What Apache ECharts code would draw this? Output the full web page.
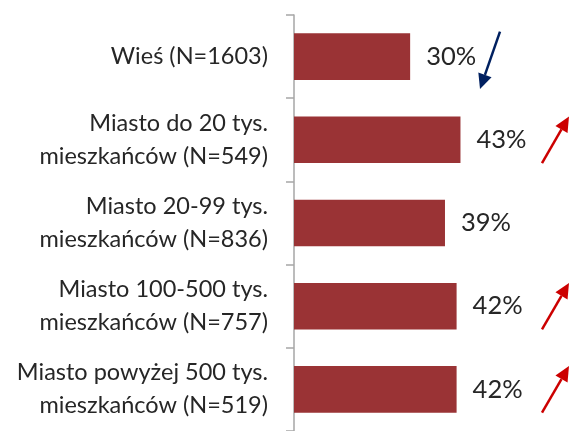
<!DOCTYPE html>
<html>
<head>
<meta charset="utf-8">
<script src="https://cdn.jsdelivr.net/npm/echarts@6/dist/echarts.min.js"></script>
<style>
  html, body { margin: 0; padding: 0; background: #fff; }
  #chart { width: 575px; height: 431px; }
</style>
</head>
<body>
<div id="chart"></div>
<script>
// dane
const categories = [
  "Wieś (N=1603)",
  "Miasto do 20 tys.\nmieszkańców (N=549)",
  "Miasto 20-99 tys.\nmieszkańców (N=836)",
  "Miasto 100-500 tys.\nmieszkańców (N=757)",
  "Miasto powyżej 500 tys.\nmieszkańców (N=519)"
];
const values = [30, 43, 39, 42, 42];
// kierunek zmiany (strzałki)
const trends = ["down", "up", null, "up", "up"];

let myChart = echarts.init(document.getElementById("chart"));

const font = "Lato, 'Open Sans', sans-serif";

// strzałka rysowana względem środka kategorii
function renderArrow(params, api) {
  const idx = api.value(0);
  const trend = trends[idx];
  if (!trend) return;
  const center = api.coord([0, idx]);
  const cy = center[1];
  const band = api.size([0, 1])[1];
  let x1, y1, x2, y2, color;
  if (trend === "down") {
    x1 = 500; y1 = cy - band * 0.3;
    x2 = 480; y2 = cy + band * 0.39;
    color = "#002060";
  } else {
    x1 = 542; y1 = cy + band * 0.28;
    x2 = 569; y2 = cy - band * 0.28;
    color = "#cc0000";
  }
  const ang = Math.atan2(y2 - y1, x2 - x1);
  const headLen = 15, headW = 7;
  const bx = x2 - headLen * Math.cos(ang), by = y2 - headLen * Math.sin(ang);
  const px = -Math.sin(ang) * headW, py = Math.cos(ang) * headW;
  return {
    type: "group",
    children: [
      {
        type: "line",
        shape: { x1: x1, y1: y1, x2: bx, y2: by },
        style: { stroke: color, lineWidth: 2.5 }
      },
      {
        type: "polygon",
        shape: { points: [[x2, y2], [bx + px, by + py], [bx - px, by - py]] },
        style: { fill: color }
      }
    ]
  };
}

let option = {
  animation: false,
  grid: { left: 294, right: 10, top: 15, bottom: -4 },
  xAxis: {
    type: "value",
    min: 0,
    max: 70,
    show: false
  },
  yAxis: {
    type: "category",
    inverse: true,
    data: categories,
    axisLine: { show: true, lineStyle: { color: "#a6a6a6", width: 1.5 } },
    axisTick: { show: true, length: 8, lineStyle: { color: "#a6a6a6", width: 1.5 } },
    axisLabel: {
      color: "#262626",
      fontFamily: font,
      fontSize: 23.5,
      lineHeight: 33,
      margin: 26,
      align: "right"
    }
  },
  series: [
    {
      type: "bar",
      data: values,
      barWidth: "56%",
      itemStyle: { color: "#9a3335" },
      label: {
        show: true,
        position: "right",
        distance: 16,
        formatter: "{c}%",
        color: "#262626",
        fontFamily: font,
        fontSize: 25.5
      }
    },
    {
      type: "custom",
      clip: false,
      renderItem: renderArrow,
      data: categories.map((c, i) => [i]),
      encode: { y: 0 },
      silent: true
    }
  ]
};

myChart.setOption(option);
</script>
</body>
</html>
